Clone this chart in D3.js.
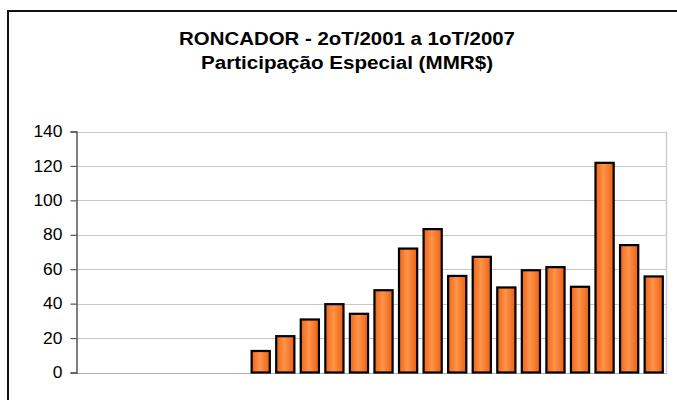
<!DOCTYPE html>
<html>
<head>
<meta charset="utf-8">
<script src="https://cdn.jsdelivr.net/npm/d3@7"></script>
<style>
  html, body { margin: 0; padding: 0; background: #fff; }
  svg { display: block; }
</style>
</head>
<body>
<svg id="chart" width="677" height="400"></svg>
<script>
// Quarters 2T/2001 .. 1T/2007
const quarters = [
  "2T/2001", "3T/2001", "4T/2001",
  "1T/2002", "2T/2002", "3T/2002", "4T/2002",
  "1T/2003", "2T/2003", "3T/2003", "4T/2003",
  "1T/2004", "2T/2004", "3T/2004", "4T/2004",
  "1T/2005", "2T/2005", "3T/2005", "4T/2005",
  "1T/2006", "2T/2006", "3T/2006", "4T/2006",
  "1T/2007"
];
// Participação Especial, MM R$ (no payments before 2003)
const values = [
  0, 0, 0, 0, 0, 0, 0,
  12.5, 21.1, 30.8, 39.7,
  34.1, 47.8, 72.0, 83.3,
  56.1, 67.2, 49.4, 59.4,
  61.2, 49.8, 121.8, 74.0,
  55.8
];
const yTicks = [0, 20, 40, 60, 80, 100, 120, 140];
const titleLines = ["RONCADOR - 2oT/2001 a 1oT/2007", "Participação Especial (MMR$)"];

const svg = d3.select("#chart");
const font = "Arial, 'Liberation Sans', sans-serif";

// outer chart frame
svg.append("rect")
  .attr("x", 8).attr("y", 11)
  .attr("width", 700).attr("height", 420)
  .attr("fill", "#fff")
  .attr("stroke", "#111").attr("stroke-width", 2);

// titles (stretched slightly to the chart's wide title style)
const titleWidths = [336, 292];
svg.append("g").selectAll("text")
  .data(titleLines)
  .join("text")
  .attr("x", 347)
  .attr("y", (d, i) => 45 + i * 24)
  .attr("text-anchor", "middle")
  .attr("font-family", font)
  .attr("font-weight", "bold")
  .attr("font-size", 18)
  .attr("fill", "#000")
  .attr("textLength", (d, i) => titleWidths[i])
  .attr("lengthAdjust", "spacingAndGlyphs")
  .text(d => d);

const plot = { left: 76.5, right: 666, top: 131.5, bottom: 372.5 };

const x = d3.scaleBand()
  .domain(quarters)
  .range([plot.left, plot.right])
  .paddingInner(0.26)
  .paddingOuter(0.13);

const y = d3.scaleLinear()
  .domain([0, 140])
  .range([plot.bottom, plot.top]);

// gradient for the bars
const defs = svg.append("defs");
const grad = defs.append("linearGradient")
  .attr("id", "barFill")
  .attr("x1", "0%").attr("x2", "100%")
  .attr("y1", "0%").attr("y2", "0%");
grad.append("stop").attr("offset", "0%").attr("stop-color", "#EE6418");
grad.append("stop").attr("offset", "45%").attr("stop-color", "#FF9448");
grad.append("stop").attr("offset", "100%").attr("stop-color", "#EA6016");

// gridlines
svg.append("g").selectAll("line")
  .data(yTicks.filter(t => t > 0))
  .join("line")
  .attr("x1", plot.left).attr("x2", plot.right)
  .attr("y1", d => Math.round(y(d)) + 0.5).attr("y2", d => Math.round(y(d)) + 0.5)
  .attr("stroke", "#c8c8c8").attr("stroke-width", 1);

// right border of the plot area
svg.append("line")
  .attr("x1", plot.right + 0.5).attr("x2", plot.right + 0.5)
  .attr("y1", plot.top).attr("y2", plot.bottom)
  .attr("stroke", "#cfcfcf").attr("stroke-width", 1.5);

// category axis baseline
svg.append("line")
  .attr("x1", plot.left).attr("x2", plot.right + 1)
  .attr("y1", Math.round(y(0)) + 0.5).attr("y2", Math.round(y(0)) + 0.5)
  .attr("stroke", "#b0b0b0").attr("stroke-width", 1);

// bars
svg.append("g").selectAll("rect")
  .data(quarters.map((q, i) => ({ q, v: values[i] })).filter(d => d.v > 0))
  .join("rect")
  .attr("x", d => x(d.q))
  .attr("y", d => y(d.v))
  .attr("width", x.bandwidth())
  .attr("height", d => y(0) - y(d.v))
  .attr("fill", "url(#barFill)")
  .attr("stroke", "#000")
  .attr("stroke-width", 2.2);

// value axis
const yAxis = d3.axisLeft(y)
  .tickValues(yTicks)
  .tickSize(6)
  .tickPadding(8);
const gy = svg.append("g")
  .attr("transform", `translate(${plot.left},0)`)
  .call(yAxis);
gy.select(".domain").attr("stroke", "#555").attr("stroke-width", 1.5);
gy.selectAll(".tick line").attr("stroke", "#555").attr("stroke-width", 1.2);
gy.selectAll(".tick text")
  .attr("font-family", font)
  .attr("font-size", 16)
  .attr("fill", "#000")
  .attr("textLength", d => String(d).length * 9.7)
  .attr("lengthAdjust", "spacingAndGlyphs");
</script>
</body>
</html>
